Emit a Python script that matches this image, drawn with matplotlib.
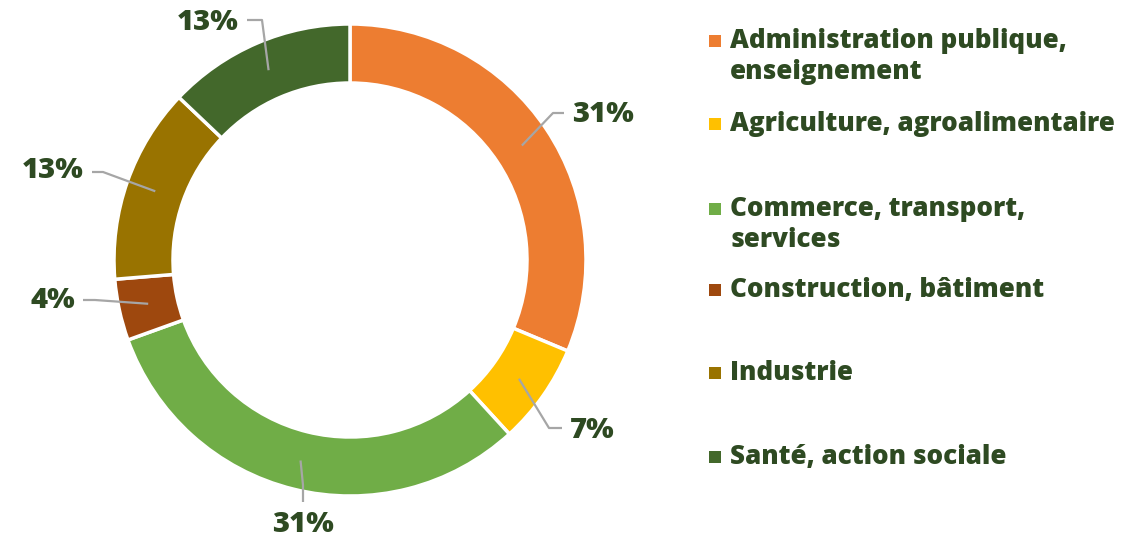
import numpy as np
import matplotlib
matplotlib.use("Agg")
import matplotlib.pyplot as plt

# data
sectors = ["Administration publique,\nenseignement",
           "Agriculture, agroalimentaire",
           "Commerce, transport,\nservices",
           "Construction, bâtiment",
           "Industrie",
           "Santé, action sociale"]
shares = [31.3, 6.9, 31.3, 4.2, 13.4, 12.9]
colors = ["#ED7D31", "#FFC000", "#70AD47", "#9E480E", "#997300", "#43682B"]

TXT = "#2E4A22"
LINE = "#A6A6A6"
W, H = 1145, 537
plt.rcParams['font.family'] = ['Open Sans', 'DejaVu Sans']


def px(x, y):
    # image pixel coords (y down) -> axes coords (y up)
    return x, H - y


fig = plt.figure(figsize=(W / 100, H / 100), dpi=100)
ax = fig.add_axes([0, 0, 1, 1])
ax.set_xlim(0, W)
ax.set_ylim(0, H)
ax.set_aspect('equal')
ax.axis('off')

cx, cy = px(350, 260)
R = 236
wedges, _ = ax.pie(shares, colors=colors, radius=R, center=(cx, cy),
                   startangle=90, counterclock=False,
                   wedgeprops=dict(width=R * 0.25, edgecolor='white',
                                   linewidth=2.5))
ax.set_xlim(0, W)
ax.set_ylim(0, H)

# label placement: (elbow, line end, text position, ha) in image pixels
label_pos = [
    ((553, 113), (564, 113), (572, 115), 'left'),
    ((549, 428), (562, 428), (570, 430), 'left'),
    ((303, 485), (303, 502), (303, 524), 'center'),
    ((95, 300), (83, 300), (75, 301), 'right'),
    ((103, 172), (92, 172), (84, 171), 'right'),
    ((262, 20), (247, 20), (239, 22), 'right'),
]

cum = np.cumsum([0] + shares[:-1])
total = sum(shares)
rmid = R * (1 - 0.125)
for s, c0, (elb, end, tp, ha) in zip(shares, cum, label_pos):
    ang = np.deg2rad(90 - (c0 + s / 2) / total * 360)
    ax_, ay_ = cx + rmid * np.cos(ang), cy + rmid * np.sin(ang)
    ex, ey = px(*elb)
    nx, ny = px(*end)
    ax.plot([ax_, ex, nx], [ay_, ey, ny], color=LINE, lw=1.6,
            solid_capstyle='butt')
    tx, ty = px(*tp)
    ax.text(tx, ty, "%.0f%%" % s, ha=ha, va='center', fontsize=21,
            fontweight=800, color=TXT)

# legend drawn by hand
leg_y = [41, 124, 209, 290, 373, 457]
for name, col, y in zip(sectors, colors, leg_y):
    x0, y0 = px(715, y)
    ax.scatter([x0], [y0], marker='s', s=80, color=col, linewidths=0)
    for i, line in enumerate(name.split('\n')):
        lx, ly = px(730, y + i * 31)
        ax.text(lx, ly, line, ha='left', va='center', fontsize=18.7,
                fontweight=800, color=TXT)

fig.savefig("out.png", dpi=100)
